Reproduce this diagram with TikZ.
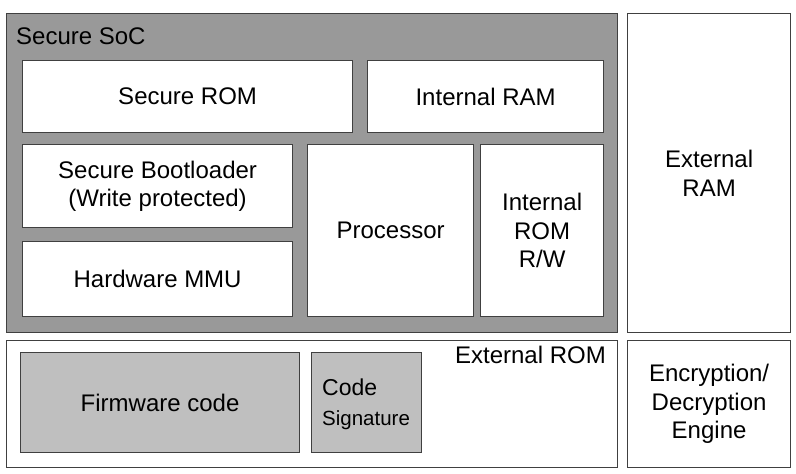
\documentclass[tikz,border=0pt]{standalone}
\usepackage{fontspec}
\setmainfont{Liberation Sans}
\begin{document}
\begin{tikzpicture}[x=1pt,y=-1pt,
  blk/.style={draw=black!75,line width=1.2pt,fill=white,inner sep=0pt,align=center,font=\fontsize{24}{28.5}\selectfont},
  gblk/.style={blk,fill=black!25},
  lbl/.style={inner sep=0pt,font=\fontsize{24}{28.5}\selectfont}]
\useasboundingbox (0,0) rectangle (796,474);
\fill[white] (0,0) rectangle (796,474);
% Secure SoC
\node[blk,fill=black!40,minimum width=611,minimum height=319,anchor=north west] (soc) at (6,13) {};
\node[lbl,anchor=base west] (soclbl) at (16,44) {Secure SoC};
\node[blk,minimum width=330,minimum height=72,anchor=north west] (srom) at (22,60) {Secure ROM};
\node[blk,minimum width=236,minimum height=72,anchor=north west] (iram) at (367,60) {Internal RAM};
\node[blk,minimum width=270,minimum height=83,anchor=north west] (sbl) at (22,144) {Secure Bootloader\\(Write protected)};
\node[blk,minimum width=270,minimum height=75,anchor=north west] (mmu) at (22,241) {Hardware MMU};
\node[blk,minimum width=166,minimum height=172,anchor=north west] (proc) at (307,144) {Processor};
\node[blk,minimum width=123,minimum height=172,anchor=north west] (irom) at (480,144) {Internal\\ROM\\R/W};
% External RAM
\node[blk,minimum width=163,minimum height=319,anchor=north west] (eram) at (627,13) {External\\RAM};
% External ROM
\node[blk,minimum width=611,minimum height=127,anchor=north west] (erom) at (6,340) {};
\node[lbl,anchor=base east] (eromlbl) at (606,363) {External ROM};
\node[gblk,minimum width=279,minimum height=100,anchor=north west] (fw) at (20,352) {Firmware code};
\node[gblk,minimum width=110,minimum height=100,anchor=north west] (sig) at (311,352) {};
\node[lbl,anchor=base west,font=\fontsize{23}{27}\selectfont] (codelbl) at (322,395) {Code};
\node[lbl,anchor=base west,font=\fontsize{20.5}{24}\selectfont] (siglbl) at (322,425) {Signature};
% Encryption engine
\node[blk,minimum width=163,minimum height=127,anchor=north west] (enc) at (627,340) {Encryption/\\Decryption\\Engine};
\end{tikzpicture}
\end{document}
